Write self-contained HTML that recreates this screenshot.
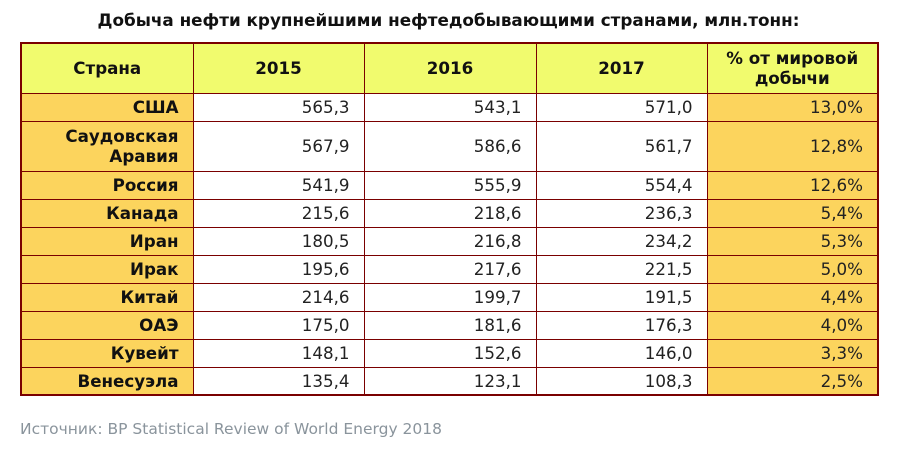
<!DOCTYPE html>
<html><head><meta charset="utf-8"><style>
body{margin:0;width:897px;height:451px;background:#fff;position:relative;overflow:hidden;font-family:"DejaVu Sans","Liberation Sans",sans-serif;}
.t{position:absolute;left:0;width:897px;top:10px;text-align:center;font-weight:bold;font-size:16.8px;color:#111;}
table{position:absolute;left:20px;top:42px;border-collapse:collapse;table-layout:fixed;border:2px solid #7a0000;}
td{border:1px solid #7a0000;padding:0 14px 0 4px;text-align:right;font-size:16.7px;color:#222;line-height:20px;}
tr.h td{background:#f1fb6e;text-align:center;font-weight:bold;font-size:16.7px;color:#111;padding:0 4px;}
td.c{background:#fcd45d;font-weight:bold;font-size:16.7px;color:#111;}
td.p{background:#fcd45d;}
.s{position:absolute;left:20px;top:420px;font-size:15.5px;color:#8a949c;}
</style></head><body>
<div class="t">Добыча нефти крупнейшими нефтедобывающими странами, млн.тонн:</div>
<table>
<colgroup><col style="width:172px"><col style="width:171px"><col style="width:172px"><col style="width:171px"><col style="width:171px"></colgroup>
<tr class="h" style="height:50px"><td>Страна</td><td>2015</td><td>2016</td><td>2017</td><td>% от мировой<br>добычи</td></tr>
<tr style="height:28px"><td class="c">США</td><td>565,3</td><td>543,1</td><td>571,0</td><td class="p">13,0%</td></tr>
<tr style="height:50px"><td class="c">Саудовская<br>Аравия</td><td>567,9</td><td>586,6</td><td>561,7</td><td class="p">12,8%</td></tr>
<tr style="height:28px"><td class="c">Россия</td><td>541,9</td><td>555,9</td><td>554,4</td><td class="p">12,6%</td></tr>
<tr style="height:28px"><td class="c">Канада</td><td>215,6</td><td>218,6</td><td>236,3</td><td class="p">5,4%</td></tr>
<tr style="height:28px"><td class="c">Иран</td><td>180,5</td><td>216,8</td><td>234,2</td><td class="p">5,3%</td></tr>
<tr style="height:28px"><td class="c">Ирак</td><td>195,6</td><td>217,6</td><td>221,5</td><td class="p">5,0%</td></tr>
<tr style="height:28px"><td class="c">Китай</td><td>214,6</td><td>199,7</td><td>191,5</td><td class="p">4,4%</td></tr>
<tr style="height:28px"><td class="c">ОАЭ</td><td>175,0</td><td>181,6</td><td>176,3</td><td class="p">4,0%</td></tr>
<tr style="height:28px"><td class="c">Кувейт</td><td>148,1</td><td>152,6</td><td>146,0</td><td class="p">3,3%</td></tr>
<tr style="height:28px"><td class="c">Венесуэла</td><td>135,4</td><td>123,1</td><td>108,3</td><td class="p">2,5%</td></tr>
</table>
<div class="s">Источник: BP Statistical Review of World Energy 2018</div>
</body></html>
